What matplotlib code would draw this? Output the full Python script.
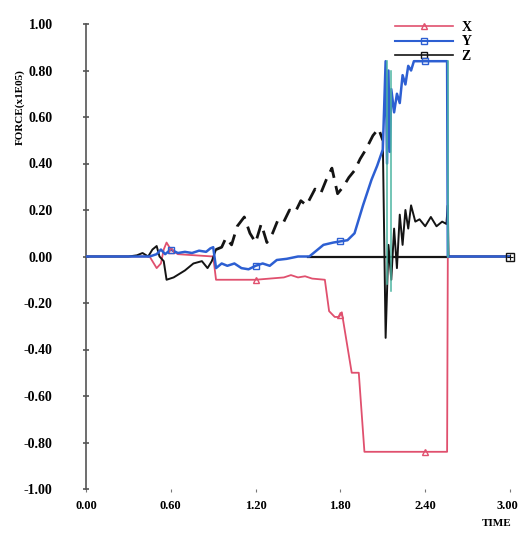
import numpy as np
import matplotlib
matplotlib.use("Agg")
import matplotlib.pyplot as plt
from matplotlib.lines import Line2D

# ---------------- data ----------------
X_T = [0.0, 0.45, 0.50, 0.53, 0.55, 0.57, 0.60, 0.65, 0.90, 0.92, 1.00, 1.10, 1.20, 1.30,
       1.40, 1.45, 1.50, 1.55, 1.60, 1.69, 1.72, 1.76, 1.79, 1.81, 1.88, 1.93, 1.97, 2.20,
       2.40, 2.555, 2.56, 3.0]
X_V = [0.0, 0.0, -0.05, -0.03, 0.03, 0.06, 0.03, 0.01, 0.0, -0.10, -0.10, -0.10, -0.10, -0.095,
       -0.09, -0.08, -0.09, -0.085, -0.095, -0.10, -0.235, -0.26, -0.26, -0.24, -0.50, -0.50, -0.84, -0.84,
       -0.84, -0.84, 0.0, 0.0]

Y_T = [0.0, 0.45, 0.50, 0.53, 0.56, 0.60, 0.65, 0.70, 0.75, 0.80, 0.85, 0.88, 0.90, 0.92,
       0.96, 1.00, 1.05, 1.10, 1.15, 1.20, 1.25, 1.30, 1.35, 1.42, 1.50, 1.58, 1.62, 1.68,
       1.75, 1.80, 1.85, 1.90, 1.96, 2.02, 2.06, 2.10, 2.12, 2.13, 2.14, 2.15, 2.16, 2.18,
       2.20, 2.22, 2.24, 2.26, 2.28, 2.30, 2.32, 2.40, 2.555, 2.56, 3.0]
Y_V = [0.0, 0.0, 0.01, 0.03, 0.01, 0.03, 0.015, 0.02, 0.015, 0.025, 0.02, 0.035, 0.04, -0.05,
       -0.03, -0.04, -0.03, -0.05, -0.055, -0.04, -0.03, -0.04, -0.015, -0.01, 0.0, 0.0, 0.02, 0.05,
       0.06, 0.065, 0.07, 0.10, 0.22, 0.33, 0.39, 0.46, 0.84, 0.40, 0.80, 0.45, 0.72, 0.62,
       0.70, 0.66, 0.78, 0.74, 0.82, 0.80, 0.84, 0.84, 0.84, 0.0, 0.0]

Z_T = [0.0, 0.30, 0.36, 0.40, 0.44, 0.47, 0.50, 0.52, 0.55, 0.57, 0.62, 0.70, 0.76, 0.82,
       0.86, 0.89, 0.92, 0.96, 0.99, 1.03, 1.07, 1.12, 1.16, 1.20, 1.24, 1.28, 1.32, 1.36,
       1.40, 1.44, 1.48, 1.52, 1.56, 1.62, 1.66, 1.70, 1.74, 1.78, 1.82, 1.86, 1.90, 1.94,
       1.98, 2.03, 2.07, 2.10, 2.12, 2.14, 2.16, 2.18, 2.20, 2.22, 2.24, 2.26, 2.28, 2.30,
       2.33, 2.36, 2.40, 2.44, 2.48, 2.52, 2.55, 2.56, 2.565, 3.0]
Z_V = [0.0, 0.0, 0.005, 0.015, 0.0, 0.03, 0.045, 0.0, -0.02, -0.10, -0.09, -0.06, -0.03, -0.02,
       -0.05, -0.02, 0.03, 0.04, 0.08, 0.05, 0.13, 0.17, 0.10, 0.06, 0.14, 0.06, 0.10, 0.16,
       0.15, 0.20, 0.19, 0.24, 0.22, 0.29, 0.27, 0.33, 0.38, 0.27, 0.30, 0.34, 0.37, 0.42,
       0.46, 0.52, 0.55, 0.50, -0.35, 0.05, -0.10, 0.12, -0.05, 0.18, 0.05, 0.20, 0.12, 0.22,
       0.15, 0.16, 0.13, 0.17, 0.13, 0.15, 0.14, 0.22, 0.0, 0.0]
Z_DASHED_RANGE = (0.92, 2.10)   # part of Z that appears broken in the scan

BASE_T = [1.57, 2.56]
BASE_V = [0.0, 0.0]

TEAL_T = [2.13, 2.13, np.nan, 2.155, 2.155, np.nan, 2.56, 2.56]
TEAL_V = [0.84, -0.12, np.nan, 0.80, -0.15, np.nan, 0.84, 0.0]

MARK_T = [0.6, 1.2, 1.8, 2.4]
Z_MARK_T = [3.0]

X_TICKS = [0.0, 0.6, 1.2, 1.8, 2.4, 3.0]
X_TICK_LABELS = ["0.00", "0.60", "1.20", "1.80", "2.40", "3.00"]
Y_TICKS = [1.0, 0.8, 0.6, 0.4, 0.2, 0.0, -0.2, -0.4, -0.6, -0.8, -1.0]
Y_TICK_LABELS = ["1.00", "0.80", "0.60", "0.40", "0.20", "0.00", "-0.20", "-0.40", "-0.60", "-0.80", "-1.00"]

RED = "#e0506e"
BLUE = "#2d5fd2"
BLACK = "#141414"
TEAL = "#4db5a2"

# ---------------- figure ----------------
plt.rcParams['font.family'] = ['Liberation Serif', 'DejaVu Serif']
fig = plt.figure(figsize=(5.2, 5.36), dpi=100)
ax = fig.add_axes([86 / 520, 1 - 489 / 536, 424 / 520, 465 / 536])
ax.set_xlim(0, 3.0)
ax.set_ylim(-1.0, 1.0)

zt = np.array(Z_T)
zv = np.array(Z_V)
in_d = (zt >= Z_DASHED_RANGE[0]) & (zt <= Z_DASHED_RANGE[1])
z_solid = np.where(in_d & (zt > Z_DASHED_RANGE[0]) & (zt < Z_DASHED_RANGE[1]), np.nan, zv)
z_dash = np.where(in_d, zv, np.nan)

ax.plot(BASE_T, BASE_V, color=BLACK, lw=1.6, zorder=2)
ax.plot(X_T, X_V, color=RED, lw=1.3, zorder=3)
ax.plot(Y_T, Y_V, color=BLUE, lw=1.8, zorder=4)
ax.plot(TEAL_T, TEAL_V, color=TEAL, lw=1.1, zorder=5)
ax.plot(zt, z_solid, color=BLACK, lw=1.4, zorder=3)
ax.plot(zt, z_dash, color=BLACK, lw=2.0, ls=(0, (5, 3)), zorder=3)

ax.plot(MARK_T, np.interp(MARK_T, X_T, X_V), ls='none', marker='^', ms=5,
        mfc='none', mec=RED, mew=1.0, zorder=6)
ax.plot(MARK_T, np.interp(MARK_T, Y_T, Y_V), ls='none', marker='s', ms=5,
        mfc='none', mec=BLUE, mew=1.0, zorder=6)
ax.plot(Z_MARK_T, np.interp(Z_MARK_T, Z_T, Z_V), ls='none', marker='s', ms=6,
        mfc='none', mec=BLACK, mew=1.0, zorder=6, clip_on=False)
ax.plot(Z_MARK_T, np.interp(Z_MARK_T, Z_T, Z_V), ls='none', marker='+', ms=5,
        mec=BLACK, mew=0.8, zorder=6, clip_on=False)

for s in ['top', 'right', 'bottom']:
    ax.spines[s].set_visible(False)
ax.spines['left'].set_color('#555555')
ax.spines['left'].set_linewidth(1.2)

ax.set_yticks(Y_TICKS)
ax.set_yticklabels(Y_TICK_LABELS, fontsize=10, fontweight='bold')
ax.set_xticks(X_TICKS)
ax.set_xticklabels(X_TICK_LABELS, fontsize=9, fontweight='bold')
ax.tick_params(axis='y', direction='inout', length=4, width=1.2, color='#555555', pad=22)
ax.tick_params(axis='x', direction='out', length=2, width=0.8, color='#777777', pad=6)
ax.get_xticklabels()[-1].set_horizontalalignment('right')
ax.get_xticklabels()[-1].set_x(3.0)
for lbl in ax.get_xticklabels()[-1:]:
    lbl.set_ha('center')
    lbl.set_transform(lbl.get_transform() + matplotlib.transforms.ScaledTranslation(-3 / 100, 0, fig.dpi_scale_trans))

fig.text(20 / 520, 1 - 107 / 536, "FORCE(x1E05)", rotation=90, ha='center', va='center',
         fontsize=8, fontweight='bold')
fig.text(497 / 520, 1 - 523 / 536, "TIME", ha='center', va='center',
         fontsize=8, fontweight='bold')

handles = [
    Line2D([], [], color=RED, lw=1.2, marker='^', ms=4, mfc='none', mec=RED),
    Line2D([], [], color=BLUE, lw=1.5, marker='s', ms=5, mfc='none', mec=BLUE),
    Line2D([], [], color=BLACK, lw=1.2, marker='s', ms=5, mfc='none', mec=BLACK),
]
leg = ax.legend(handles, ["X", "Y", "Z"], loc='upper left',
                bbox_to_anchor=((395 - 86) / 424, 1 - (21 - 24) / 465), frameon=False,
                handlelength=4.2, handletextpad=0.6, labelspacing=0.1, borderpad=0,
                borderaxespad=0, numpoints=1, prop={'weight': 'bold', 'size': 10})

fig.savefig("out.png", dpi=100, facecolor='white')
